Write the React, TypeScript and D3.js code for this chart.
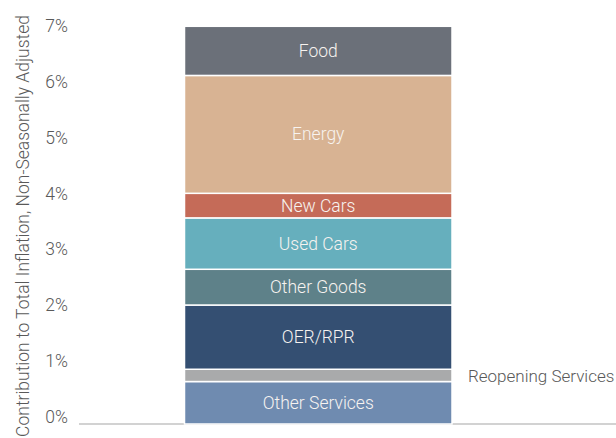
import React from "react";
import * as d3 from "d3";

const categories = ["Other Services", "Reopening Services", "OER/RPR", "Other Goods", "Used Cars", "New Cars", "Energy", "Food"];
const values = [0.76, 0.22, 1.15, 0.64, 0.92, 0.44, 2.11, 0.88];
const colors = ["#6f8bb0", "#a9aaab", "#344f72", "#5e8189", "#66afbd", "#c56b58", "#d8b393", "#6b7079"];
const tickValues = [0, 1, 2, 3, 4, 5, 6, 7];
const yTitle = "Contribution to Total Inflation, Non-Seasonally Adjusted";

const W = 616;
const H = 438;

export default function App() {
  const y = d3.scaleLinear().domain([0, 7]).range([424, 33]);
  const bx = 184.5;
  const bw = 267.5;
  let cum = 0;
  const segs = values.map((v, i) => {
    const s = { name: categories[i], y0: cum, y1: cum + v, color: colors[i] };
    cum += v;
    return s;
  });
  const font = "Roboto, 'Open Sans', sans-serif";
  return (
    <svg width={W} height={H} style={{ position: "absolute", left: 0, top: 0, background: "#fff" }} fontFamily={font}>
      <line x1={79} x2={616} y1={424} y2={424} stroke="#a6a6a6" strokeWidth={1.2} />
      {tickValues.map((t) => (
        <text key={t} x={68} y={y(t) - 7} textAnchor="end" dominantBaseline="central" fontSize={17.5} fontWeight={300} fill="#595959">
          {t + "%"}
        </text>
      ))}
      <text
        transform={`translate(23,${226}) rotate(-90)`}
        textAnchor="middle"
        dominantBaseline="central"
        fontSize={17.5}
        fontWeight={300}
        fill="#595959"
      >
        {yTitle}
      </text>
      {segs.map((s) => (
        <rect key={s.name} x={bx} width={bw} y={y(s.y1)} height={y(s.y0) - y(s.y1)} fill={s.color} stroke="#fff" strokeWidth={1.5} />
      ))}
      {segs.map((s) =>
        s.name === "Reopening Services" ? (
          <text key={s.name} x={468} y={(y(s.y0) + y(s.y1)) / 2 + 1} dominantBaseline="central" fontSize={17} fontWeight={300} fill="#595959">
            {s.name}
          </text>
        ) : (
          <text key={s.name} x={bx + bw / 2} y={(y(s.y0) + y(s.y1)) / 2} textAnchor="middle" dominantBaseline="central" fontSize={17.5} fontWeight={300} fill="#f7f3f0">
            {s.name}
          </text>
        )
      )}
    </svg>
  );
}
